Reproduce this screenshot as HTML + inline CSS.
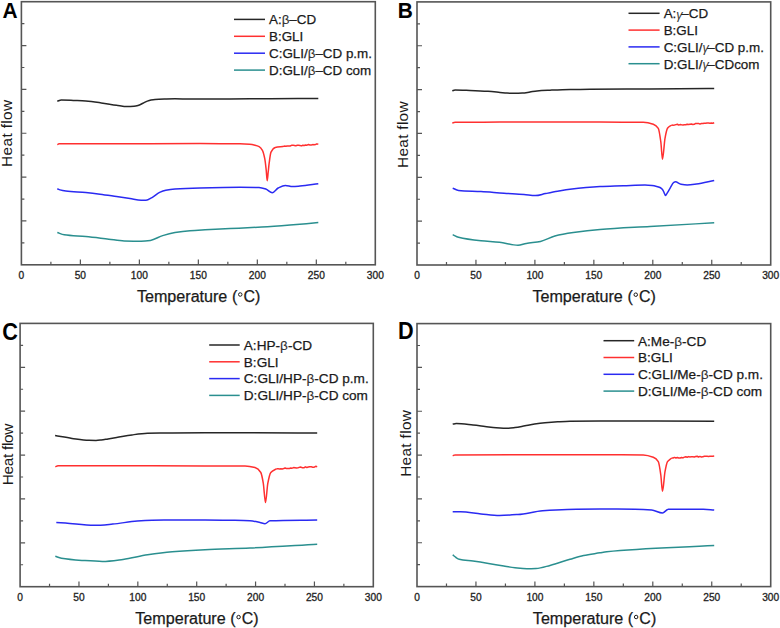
<!DOCTYPE html>
<html><head><meta charset="utf-8"><title>DSC thermograms</title>
<style>html,body{margin:0;padding:0;background:#fff;}body{width:780px;height:628px;overflow:hidden;}svg{display:block;}text{font-family:"Liberation Sans",sans-serif;}</style></head><body>
<svg width="780" height="628" viewBox="0 0 780 628">
<rect width="780" height="628" fill="#fff"/>
<g><rect x="21.4" y="1.7" width="353.9" height="263.1" fill="none" stroke="#555555" stroke-width="1.6"/>
<path d="M50.89,264.8v-3M80.38,264.8v-5.2M109.88,264.8v-3M139.37,264.8v-5.2M168.86,264.8v-3M198.35,264.8v-5.2M227.84,264.8v-3M257.33,264.8v-5.2M286.83,264.8v-3M316.32,264.8v-5.2M345.81,264.8v-3M21.4,23.62h3M21.4,45.55h5M21.4,67.48h3M21.4,89.4h5M21.4,111.33h3M21.4,133.25h5M21.4,155.17h3M21.4,177.1h5M21.4,199.03h3M21.4,220.95h5M21.4,242.88h3" stroke="#555555" stroke-width="1.2" fill="none"/>
<text x="21.4" y="279.1" font-size="10.2" text-anchor="middle" fill="#222" stroke="#222" stroke-width="0.3">0</text>
<text x="80.38" y="279.1" font-size="10.2" text-anchor="middle" fill="#222" stroke="#222" stroke-width="0.3">50</text>
<text x="139.37" y="279.1" font-size="10.2" text-anchor="middle" fill="#222" stroke="#222" stroke-width="0.3">100</text>
<text x="198.35" y="279.1" font-size="10.2" text-anchor="middle" fill="#222" stroke="#222" stroke-width="0.3">150</text>
<text x="257.33" y="279.1" font-size="10.2" text-anchor="middle" fill="#222" stroke="#222" stroke-width="0.3">200</text>
<text x="316.32" y="279.1" font-size="10.2" text-anchor="middle" fill="#222" stroke="#222" stroke-width="0.3">250</text>
<text x="375.3" y="279.1" font-size="10.2" text-anchor="middle" fill="#222" stroke="#222" stroke-width="0.3">300</text>
<text x="136.95" y="301.6" font-size="16" textLength="90.4" lengthAdjust="spacingAndGlyphs" fill="#1a1a1a" stroke="#1a1a1a" stroke-width="0.25">Temperature</text>
<text x="231.95" y="301.6" font-size="16" fill="#1a1a1a" stroke="#1a1a1a" stroke-width="0.25">(</text>
<circle cx="240.25" cy="294.5" r="1.75" fill="none" stroke="#1a1a1a" stroke-width="1"/>
<text x="243.45" y="301.6" font-size="16" fill="#1a1a1a" stroke="#1a1a1a" stroke-width="0.25">C)</text>
<text x="0" y="0" font-size="15.4" textLength="67" lengthAdjust="spacing" fill="#1a1a1a" transform="translate(12,166.9) rotate(-90)">Heat flow</text>
<text transform="translate(2.6,18) scale(0.95,1)" font-size="22" font-weight="bold" fill="#000">A</text>
<path d="M234,19.4H265" stroke="#262626" stroke-width="1.5"/>
<text x="269" y="24.2" font-size="13.4" fill="#1a1a1a" stroke="#1a1a1a" stroke-width="0.25">A:<tspan stroke-width="0.1" fill="#333">β</tspan>–CD</text>
<path d="M234,36.3H265" stroke="#ff3030" stroke-width="1.5"/>
<text x="269" y="41.1" font-size="13.4" fill="#1a1a1a" stroke="#1a1a1a" stroke-width="0.25">B:GLI</text>
<path d="M234,53.2H265" stroke="#2a2af2" stroke-width="1.5"/>
<text x="269" y="58" font-size="13.4" fill="#1a1a1a" stroke="#1a1a1a" stroke-width="0.25">C:GLI/<tspan stroke-width="0.1" fill="#333">β</tspan>–CD p.m.</text>
<path d="M234,70.1H265" stroke="#2a8f8f" stroke-width="1.5"/>
<text x="269" y="74.9" font-size="13.4" fill="#1a1a1a" stroke="#1a1a1a" stroke-width="0.25">D:GLI/<tspan stroke-width="0.1" fill="#333">β</tspan>–CD com</text>
<path d="M57.3,101.3 C58.63,100.83 59.97,99.9 61.3,99.9 C65.87,99.9 70.43,100.28 75,100.5 C78.6,100.68 82.2,100.83 85.8,101.1 C90.93,101.48 96.07,102.22 101.2,102.9 C106.3,103.57 111.4,104.49 116.5,105.2 C120.1,105.7 123.7,106.6 127.3,106.6 C129.53,106.6 131.77,106.47 134,106.3 C135.33,106.2 136.67,105.87 138,105.5 C139.67,105.04 141.33,103.99 143,103.2 C144.43,102.52 145.87,101.63 147.3,101.1 C148.53,100.65 149.77,100.25 151,100 C152.33,99.73 153.67,99.49 155,99.4 C158.33,99.17 161.67,99.09 165,99 C168.33,98.91 171.67,98.8 175,98.8 C180,98.8 185,99.1 190,99.1 C203.33,99.1 216.67,98.97 230,98.9 C243.33,98.83 256.67,98.77 270,98.7 C286.1,98.61 302.2,98.5 318.3,98.4" stroke="#262626" stroke-width="1.5" fill="none" stroke-linejoin="round"/>
<path d="M57.3,144.6 C57.87,144.33 58.43,143.8 59,143.8 C72.67,143.7 86.33,143.72 100,143.7 C133.33,143.65 166.67,143.6 200,143.6 C213.33,143.6 226.67,143.65 240,143.8 C243.2,143.84 246.4,144.03 249.6,144.3 C251.4,144.45 253.2,144.79 255,145.2 C256.37,145.51 257.73,145.87 259.1,146.6 C260.2,147.19 261.3,148.37 262.4,150.3 C263.2,151.71 264,154.82 264.8,158.9 C265.27,161.28 265.73,165.7 266.2,170 C266.53,173.07 266.87,180.8 267.2,180.8 C267.53,180.8 267.87,175 268.2,172 C268.5,169.3 268.8,165.95 269.1,163.7 C269.73,158.95 270.37,153.51 271,152.2 C272.43,149.23 273.87,147.73 275.3,147.4 C277.87,146.81 280.43,146.8 283,146.5" stroke="#ff3030" stroke-width="1.5" fill="none" stroke-linejoin="round"/>
<path d="M283,146.5 L284.43,146.11 L285.85,146.29 L287.27,145.99 L288.7,146.1 L290.12,146 L291.55,145.32 L292.97,145.14 L294.4,145.5 L295.8,145.84 L297.2,145.26 L298.6,145.23 L300,145.5 L301.41,145.9 L302.82,145.27 L304.22,145.54 L305.63,145.08 L307.04,145.14 L308.45,144.55 L309.85,144.93 L311.26,145.07 L312.67,144.62 L314.08,144.74 L315.48,144.57 L316.89,143.86 L318.3,144.2" stroke="#ff3030" stroke-width="1.5" fill="none" stroke-linejoin="round"/>
<path d="M57.3,188.7 C58.2,189.1 59.1,189.65 60,189.9 C61.93,190.44 63.87,190.76 65.8,191 C72.47,191.81 79.13,191.97 85.8,192.6 C90.53,193.05 95.27,193.6 100,194.2 C105.5,194.9 111,195.79 116.5,196.6 C121,197.26 125.5,197.92 130,198.6 C133.73,199.16 137.47,200.3 141.2,200.3 C142.8,200.3 144.4,200.3 146,200.3 C148,200.3 150,198.68 152,197.6 C154.53,196.24 157.07,193.57 159.6,192.4 C161.67,191.44 163.73,190.63 165.8,190.2 C168.87,189.56 171.93,189.11 175,188.9 C183.33,188.33 191.67,188.09 200,187.9 C213.33,187.6 226.67,187.3 240,187.3 C246.33,187.3 252.67,187.35 259,187.5 C261.27,187.55 263.53,188.27 265.8,189 C267.97,189.7 270.13,192.8 272.3,192.8 C274.27,192.8 276.23,189 278.2,188 C280.6,186.78 283,185.4 285.4,185.4 C287.77,185.4 290.13,186.6 292.5,186.6 C295,186.6 297.5,186.31 300,186.1 C306.1,185.59 312.2,184.57 318.3,183.8" stroke="#2a2af2" stroke-width="1.5" fill="none" stroke-linejoin="round"/>
<path d="M57.3,232.5 C59.6,233.27 61.9,234.46 64.2,234.8 C71.4,235.87 78.6,235.91 85.8,236.6 C93.47,237.33 101.13,238.34 108.8,239.2 C113.93,239.77 119.07,240.74 124.2,240.9 C129.87,241.07 135.53,241.2 141.2,241.2 C144.27,241.2 147.33,240.82 150.4,240.4 C154.5,239.83 158.6,236.83 162.7,235.6 C166.8,234.37 170.9,233.29 175,232.6 C180,231.76 185,231.11 190,230.7 C195,230.29 200,230.07 205,229.8 C213.33,229.35 221.67,229.01 230,228.6 C240.6,228.08 251.2,227.63 261.8,227 C271.2,226.44 280.6,225.73 290,225 C299.43,224.27 308.87,223.4 318.3,222.6" stroke="#2a8f8f" stroke-width="1.5" fill="none" stroke-linejoin="round"/></g>
<g><rect x="417" y="1.9" width="353.7" height="263.1" fill="none" stroke="#555555" stroke-width="1.6"/>
<path d="M446.48,265v-3M475.95,265v-5.2M505.43,265v-3M534.9,265v-5.2M564.38,265v-3M593.85,265v-5.2M623.33,265v-3M652.8,265v-5.2M682.28,265v-3M711.75,265v-5.2M741.23,265v-3M417,23.82h3M417,45.75h5M417,67.68h3M417,89.6h5M417,111.53h3M417,133.45h5M417,155.38h3M417,177.3h5M417,199.23h3M417,221.15h5M417,243.08h3" stroke="#555555" stroke-width="1.2" fill="none"/>
<text x="417" y="279.3" font-size="10.2" text-anchor="middle" fill="#222" stroke="#222" stroke-width="0.3">0</text>
<text x="475.95" y="279.3" font-size="10.2" text-anchor="middle" fill="#222" stroke="#222" stroke-width="0.3">50</text>
<text x="534.9" y="279.3" font-size="10.2" text-anchor="middle" fill="#222" stroke="#222" stroke-width="0.3">100</text>
<text x="593.85" y="279.3" font-size="10.2" text-anchor="middle" fill="#222" stroke="#222" stroke-width="0.3">150</text>
<text x="652.8" y="279.3" font-size="10.2" text-anchor="middle" fill="#222" stroke="#222" stroke-width="0.3">200</text>
<text x="711.75" y="279.3" font-size="10.2" text-anchor="middle" fill="#222" stroke="#222" stroke-width="0.3">250</text>
<text x="770.7" y="279.3" font-size="10.2" text-anchor="middle" fill="#222" stroke="#222" stroke-width="0.3">300</text>
<text x="532.45" y="301.8" font-size="16" textLength="90.4" lengthAdjust="spacingAndGlyphs" fill="#1a1a1a" stroke="#1a1a1a" stroke-width="0.25">Temperature</text>
<text x="627.45" y="301.8" font-size="16" fill="#1a1a1a" stroke="#1a1a1a" stroke-width="0.25">(</text>
<circle cx="635.75" cy="294.7" r="1.75" fill="none" stroke="#1a1a1a" stroke-width="1"/>
<text x="638.95" y="301.8" font-size="16" fill="#1a1a1a" stroke="#1a1a1a" stroke-width="0.25">C)</text>
<text x="0" y="0" font-size="15.4" textLength="66.6" lengthAdjust="spacing" fill="#1a1a1a" transform="translate(407.7,168) rotate(-90)">Heat flow</text>
<text transform="translate(397.8,18) scale(0.95,1)" font-size="22" font-weight="bold" fill="#000">B</text>
<path d="M628.5,13.3H659.6" stroke="#262626" stroke-width="1.5"/>
<text x="663.7" y="18.1" font-size="13.4" fill="#1a1a1a" stroke="#1a1a1a" stroke-width="0.25">A:<tspan font-style="italic" font-size="12.5" stroke-width="0" fill="#3a3a3a" dy="0.6">γ</tspan><tspan dx="-1.3" dy="-0.6">–CD</tspan></text>
<path d="M628.5,30.1H659.6" stroke="#ff3030" stroke-width="1.5"/>
<text x="663.7" y="34.9" font-size="13.4" fill="#1a1a1a" stroke="#1a1a1a" stroke-width="0.25">B:GLI</text>
<path d="M628.5,46.9H659.6" stroke="#2a2af2" stroke-width="1.5"/>
<text x="663.7" y="51.7" font-size="13.4" fill="#1a1a1a" stroke="#1a1a1a" stroke-width="0.25">C:GLI/<tspan font-style="italic" font-size="12.5" stroke-width="0" fill="#3a3a3a" dy="0.6">γ</tspan><tspan dx="-1.3" dy="-0.6">–CD p.m.</tspan></text>
<path d="M628.5,63.7H659.6" stroke="#2a8f8f" stroke-width="1.5"/>
<text x="663.7" y="68.5" font-size="13.4" fill="#1a1a1a" stroke="#1a1a1a" stroke-width="0.25">D:GLI/<tspan font-style="italic" font-size="12.5" stroke-width="0" fill="#3a3a3a" dy="0.6">γ</tspan><tspan dx="-1.3" dy="-0.6">–CDcom</tspan></text>
<path d="M452.3,90.9 C453.2,90.57 454.1,89.9 455,89.9 C460,89.9 465,90.2 470,90.4 C476,90.64 482,90.9 488,91.3 C492,91.56 496,92.02 500,92.4 C502.33,92.62 504.67,93.01 507,93.1 C509.67,93.21 512.33,93.3 515,93.3 C517.43,93.3 519.87,93.21 522.3,93.1 C524.87,92.98 527.43,92.38 530,92 C532.33,91.65 534.67,91.1 537,90.9 C541.33,90.53 545.67,90.39 550,90.2 C556.67,89.91 563.33,89.6 570,89.5 C576.67,89.4 583.33,89.36 590,89.3 C610,89.13 630,89.04 650,88.9 C671.4,88.75 692.8,88.57 714.2,88.4" stroke="#262626" stroke-width="1.5" fill="none" stroke-linejoin="round"/>
<path d="M452.3,123 C453.2,122.73 454.1,122.21 455,122.2 C470,122.11 485,122.14 500,122.1 C521,122.05 542,121.9 563,121.9 C575.33,121.9 587.67,122.06 600,122.1 C614.43,122.15 628.87,122.12 643.3,122.2 C646.63,122.22 649.97,123.05 653.3,124.2 C654.97,124.77 656.63,125.72 658.3,128.3 C659.13,129.59 659.97,135.71 660.8,141.7 C661.37,145.78 661.93,159.2 662.5,159.2 C663.33,159.2 664.17,142.81 665,138.3 C665.83,133.79 666.67,129.46 667.5,128.3 C668.9,126.35 670.3,126.1 671.7,125" stroke="#ff3030" stroke-width="1.5" fill="none" stroke-linejoin="round"/>
<path d="M671.7,125 L673.11,125.2 L674.52,124.97 L675.92,124.62 L677.33,124.28 L678.74,125.06 L680.15,124.6 L681.55,124.79 L682.96,124.89 L684.37,124.66 L685.78,124.81 L687.18,124.22 L688.59,124.56 L690,124.2 L691.42,124.06 L692.85,124.47 L694.27,124.33 L695.69,123.47 L697.12,123.42 L698.54,123.42 L699.96,124.09 L701.39,123.48 L702.81,123.59 L704.24,123.18 L705.66,123.3 L707.08,123.1 L708.51,122.98 L709.93,123.13 L711.35,123.05 L712.78,123.29 L714.2,122.8" stroke="#ff3030" stroke-width="1.5" fill="none" stroke-linejoin="round"/>
<path d="M452.7,188.2 C454.63,188.93 456.57,190.2 458.5,190.4 C466,191.17 473.5,191.06 481,191.5 C488.67,191.95 496.33,192.69 504,193.2 C510.67,193.64 517.33,193.88 524,194.4 C527.8,194.7 531.6,195.6 535.4,195.6 C538.73,195.6 542.07,194.25 545.4,193.6 C549.5,192.81 553.6,192.01 557.7,191.3 C561.8,190.59 565.9,189.79 570,189.3 C580,188.09 590,187.09 600,186.6 C607.77,186.22 615.53,186.08 623.3,185.8 C630.53,185.54 637.77,185 645,185 C647.33,185 649.67,185.25 652,185.5 C653.57,185.67 655.13,186.01 656.7,186.4 C657.8,186.67 658.9,186.98 660,187.5 C660.83,187.89 661.67,188.46 662.5,189.4 C663.13,190.12 663.77,192.05 664.4,193.3 C664.8,194.09 665.2,195.6 665.6,195.6 C666.07,195.6 666.53,194.15 667,193.4 C668,191.79 669,190.02 670,188.4 C671.27,186.34 672.53,183.11 673.8,182.4 C674.33,182.1 674.87,181.8 675.4,181.8 C677.27,181.8 679.13,183.83 681,184.2 C683.07,184.61 685.13,185 687.2,185 C690.27,185 693.33,184.49 696.4,184.1 C702.33,183.34 708.27,181.63 714.2,180.4" stroke="#2a2af2" stroke-width="1.5" fill="none" stroke-linejoin="round"/>
<path d="M452.7,234.6 C454.63,235.5 456.57,236.8 458.5,237.3 C466,239.24 473.5,240.04 481,240.8 C487.17,241.42 493.33,241.56 499.5,242.2 C505.67,242.84 511.83,245.3 518,245.3 C520.73,245.3 523.47,243.89 526.2,243.4 C530.97,242.55 535.73,242.37 540.5,241.4 C545.3,240.42 550.1,237.2 554.9,236 C561.03,234.46 567.17,233.49 573.3,232.6 C582.2,231.31 591.1,230.23 600,229.5 C616.67,228.14 633.33,227.48 650,226.5 C671.4,225.24 692.8,224.03 714.2,222.8" stroke="#2a8f8f" stroke-width="1.5" fill="none" stroke-linejoin="round"/></g>
<g><rect x="20.1" y="323.4" width="353.2" height="263.3" fill="none" stroke="#555555" stroke-width="1.6"/>
<path d="M49.53,586.7v-3M78.97,586.7v-5.2M108.4,586.7v-3M137.83,586.7v-5.2M167.27,586.7v-3M196.7,586.7v-5.2M226.13,586.7v-3M255.57,586.7v-5.2M285,586.7v-3M314.43,586.7v-5.2M343.87,586.7v-3M20.1,345.34h3M20.1,367.28h5M20.1,389.23h3M20.1,411.17h5M20.1,433.11h3M20.1,455.05h5M20.1,476.99h3M20.1,498.93h5M20.1,520.88h3M20.1,542.82h5M20.1,564.76h3" stroke="#555555" stroke-width="1.2" fill="none"/>
<text x="20.1" y="601" font-size="10.2" text-anchor="middle" fill="#222" stroke="#222" stroke-width="0.3">0</text>
<text x="78.97" y="601" font-size="10.2" text-anchor="middle" fill="#222" stroke="#222" stroke-width="0.3">50</text>
<text x="137.83" y="601" font-size="10.2" text-anchor="middle" fill="#222" stroke="#222" stroke-width="0.3">100</text>
<text x="196.7" y="601" font-size="10.2" text-anchor="middle" fill="#222" stroke="#222" stroke-width="0.3">150</text>
<text x="255.57" y="601" font-size="10.2" text-anchor="middle" fill="#222" stroke="#222" stroke-width="0.3">200</text>
<text x="314.43" y="601" font-size="10.2" text-anchor="middle" fill="#222" stroke="#222" stroke-width="0.3">250</text>
<text x="373.3" y="601" font-size="10.2" text-anchor="middle" fill="#222" stroke="#222" stroke-width="0.3">300</text>
<text x="135.3" y="624.2" font-size="16" textLength="90.4" lengthAdjust="spacingAndGlyphs" fill="#1a1a1a" stroke="#1a1a1a" stroke-width="0.25">Temperature</text>
<text x="230.3" y="624.2" font-size="16" fill="#1a1a1a" stroke="#1a1a1a" stroke-width="0.25">(</text>
<circle cx="238.6" cy="617.1" r="1.75" fill="none" stroke="#1a1a1a" stroke-width="1"/>
<text x="241.8" y="624.2" font-size="16" fill="#1a1a1a" stroke="#1a1a1a" stroke-width="0.25">C)</text>
<text x="0" y="0" font-size="15.4" textLength="61.7" lengthAdjust="spacing" fill="#1a1a1a" transform="translate(12.7,485.2) rotate(-90)">Heat flow</text>
<text transform="translate(2.2,339.7) scale(0.88,1)" font-size="24.6" font-weight="bold" fill="#000">C</text>
<path d="M209.2,345H239.7" stroke="#262626" stroke-width="1.5"/>
<text x="243.8" y="349.8" font-size="13.6" fill="#1a1a1a" stroke="#1a1a1a" stroke-width="0.25">A:HP-<tspan stroke-width="0.1" fill="#333">β</tspan>-CD</text>
<path d="M209.2,361.8H239.7" stroke="#ff3030" stroke-width="1.5"/>
<text x="243.8" y="366.6" font-size="13.6" fill="#1a1a1a" stroke="#1a1a1a" stroke-width="0.25">B:GLI</text>
<path d="M209.2,378.6H239.7" stroke="#2a2af2" stroke-width="1.5"/>
<text x="243.8" y="383.4" font-size="13.6" fill="#1a1a1a" stroke="#1a1a1a" stroke-width="0.25">C:GLI/HP-<tspan stroke-width="0.1" fill="#333">β</tspan>-CD p.m.</text>
<path d="M209.2,395.4H239.7" stroke="#2a8f8f" stroke-width="1.5"/>
<text x="243.8" y="400.2" font-size="13.6" fill="#1a1a1a" stroke="#1a1a1a" stroke-width="0.25">D:GLI/HP-<tspan stroke-width="0.1" fill="#333">β</tspan>-CD com</text>
<path d="M55.1,435.6 C60.73,436.53 66.37,437.65 72,438.4 C77.63,439.15 83.27,440.17 88.9,440.3 C91.27,440.35 93.63,440.4 96,440.4 C97.73,440.4 99.47,440.18 101.2,440 C103.47,439.77 105.73,439.27 108,438.9 C110.87,438.43 113.73,437.97 116.6,437.5 C121.73,436.65 126.87,435.56 132,434.9 C137.13,434.24 142.27,433.49 147.4,433.3 C151.6,433.14 155.8,433.05 160,433 C164,432.95 168,432.92 172,432.9 C183,432.85 194,432.8 205,432.8 C220,432.8 235,432.8 250,432.8 C272.4,432.8 294.8,432.93 317.2,433" stroke="#262626" stroke-width="1.5" fill="none" stroke-linejoin="round"/>
<path d="M55.3,466.8 C56.2,466.47 57.1,465.81 58,465.8 C72,465.71 86,465.7 100,465.7 C135,465.7 170,465.9 205,465.9 C218.33,465.9 231.67,465.9 245,465.9 C248.33,465.9 251.67,466.54 255,467.5 C256.93,468.06 258.87,469.45 260.8,472.5 C261.63,473.81 262.47,478.45 263.3,483.3 C264.03,487.57 264.77,502.5 265.5,502.5 C266.27,502.5 267.03,487.23 267.8,483.3 C268.8,478.18 269.8,473.68 270.8,472.5 C272.77,470.18 274.73,469.97 276.7,468.7" stroke="#ff3030" stroke-width="1.5" fill="none" stroke-linejoin="round"/>
<path d="M276.7,468.7 L278.11,468.81 L279.52,468.99 L280.92,468.85 L282.33,468.91 L283.74,468.53 L285.15,467.95 L286.55,468.58 L287.96,468.61 L289.37,468.48 L290.78,468.08 L292.18,468.15 L293.59,467.58 L295,467.8 L296.48,468.06 L297.96,467.73 L299.44,467.36 L300.92,467.07 L302.4,467.79 L303.88,467.85 L305.36,466.88 L306.84,467.51 L308.32,467.05 L309.8,466.72 L311.28,466.79 L312.76,467.19 L314.24,467.22 L315.72,466.32 L317.2,466.7" stroke="#ff3030" stroke-width="1.5" fill="none" stroke-linejoin="round"/>
<path d="M56.3,522.4 C59.37,522.6 62.43,522.78 65.5,523 C75.07,523.68 84.63,525.3 94.2,525.3 C100.37,525.3 106.53,524.62 112.7,524.1 C120.9,523.41 129.1,521.48 137.3,521 C146.2,520.48 155.1,520.04 164,520 C177.67,519.93 191.33,519.9 205,519.9 C214.43,519.9 223.87,520.11 233.3,520.3 C238.87,520.41 244.43,520.5 250,520.8 C253.33,520.98 256.67,521.82 260,522.5 C261.67,522.84 263.33,523.7 265,523.7 C266.67,523.7 268.33,520.87 270,520.8 C285.73,520.11 301.47,520.27 317.2,520" stroke="#2a2af2" stroke-width="1.5" fill="none" stroke-linejoin="round"/>
<path d="M55.3,556.3 C57.33,556.97 59.37,557.95 61.4,558.3 C68.23,559.48 75.07,559.95 81.9,560.4 C88.73,560.85 95.57,561.4 102.4,561.4 C109.27,561.4 116.13,560.27 123,559.4 C131.2,558.36 139.4,556.01 147.6,554.8 C155.8,553.59 164,552.5 172.2,551.8 C183.13,550.87 194.07,550.23 205,549.7 C220,548.98 235,548.67 250,548 C272.4,547 294.8,545.47 317.2,544.2" stroke="#2a8f8f" stroke-width="1.5" fill="none" stroke-linejoin="round"/></g>
<g><rect x="417" y="323.6" width="353.7" height="263" fill="none" stroke="#555555" stroke-width="1.6"/>
<path d="M446.48,586.6v-3M475.95,586.6v-5.2M505.43,586.6v-3M534.9,586.6v-5.2M564.38,586.6v-3M593.85,586.6v-5.2M623.33,586.6v-3M652.8,586.6v-5.2M682.28,586.6v-3M711.75,586.6v-5.2M741.23,586.6v-3M417,345.52h3M417,367.43h5M417,389.35h3M417,411.27h5M417,433.18h3M417,455.1h5M417,477.02h3M417,498.93h5M417,520.85h3M417,542.77h5M417,564.68h3" stroke="#555555" stroke-width="1.2" fill="none"/>
<text x="417" y="600.9" font-size="10.2" text-anchor="middle" fill="#222" stroke="#222" stroke-width="0.3">0</text>
<text x="475.95" y="600.9" font-size="10.2" text-anchor="middle" fill="#222" stroke="#222" stroke-width="0.3">50</text>
<text x="534.9" y="600.9" font-size="10.2" text-anchor="middle" fill="#222" stroke="#222" stroke-width="0.3">100</text>
<text x="593.85" y="600.9" font-size="10.2" text-anchor="middle" fill="#222" stroke="#222" stroke-width="0.3">150</text>
<text x="652.8" y="600.9" font-size="10.2" text-anchor="middle" fill="#222" stroke="#222" stroke-width="0.3">200</text>
<text x="711.75" y="600.9" font-size="10.2" text-anchor="middle" fill="#222" stroke="#222" stroke-width="0.3">250</text>
<text x="770.7" y="600.9" font-size="10.2" text-anchor="middle" fill="#222" stroke="#222" stroke-width="0.3">300</text>
<text x="532.85" y="624.1" font-size="16" textLength="90.4" lengthAdjust="spacingAndGlyphs" fill="#1a1a1a" stroke="#1a1a1a" stroke-width="0.25">Temperature</text>
<text x="627.85" y="624.1" font-size="16" fill="#1a1a1a" stroke="#1a1a1a" stroke-width="0.25">(</text>
<circle cx="636.15" cy="617" r="1.75" fill="none" stroke="#1a1a1a" stroke-width="1"/>
<text x="639.35" y="624.1" font-size="16" fill="#1a1a1a" stroke="#1a1a1a" stroke-width="0.25">C)</text>
<text x="0" y="0" font-size="15.4" textLength="66.7" lengthAdjust="spacing" fill="#1a1a1a" transform="translate(411,476.8) rotate(-90)">Heat flow</text>
<text transform="translate(397.9,338.8) scale(0.93,1)" font-size="23.3" font-weight="bold" fill="#000">D</text>
<path d="M603.5,340.7H634.2" stroke="#262626" stroke-width="1.5"/>
<text x="638" y="345.5" font-size="13.6" fill="#1a1a1a" stroke="#1a1a1a" stroke-width="0.25">A:Me-<tspan stroke-width="0.1" fill="#333">β</tspan>-CD</text>
<path d="M603.5,357.5H634.2" stroke="#ff3030" stroke-width="1.5"/>
<text x="638" y="362.3" font-size="13.6" fill="#1a1a1a" stroke="#1a1a1a" stroke-width="0.25">B:GLI</text>
<path d="M603.5,374.3H634.2" stroke="#2a2af2" stroke-width="1.5"/>
<text x="638" y="379.1" font-size="13.6" fill="#1a1a1a" stroke="#1a1a1a" stroke-width="0.25">C:GLI/Me-<tspan stroke-width="0.1" fill="#333">β</tspan>-CD p.m.</text>
<path d="M603.5,391.1H634.2" stroke="#2a8f8f" stroke-width="1.5"/>
<text x="638" y="395.9" font-size="13.6" fill="#1a1a1a" stroke="#1a1a1a" stroke-width="0.25">D:GLI/Me-<tspan stroke-width="0.1" fill="#333">β</tspan>-CD com</text>
<path d="M452.7,424.1 C453.87,423.93 455.03,423.6 456.2,423.6 C461.8,423.6 467.4,424.45 473,425 C477,425.39 481,425.93 485,426.4 C488.73,426.83 492.47,427.47 496.2,427.7 C500.3,427.95 504.4,428.2 508.5,428.2 C510.67,428.2 512.83,427.86 515,427.6 C518.33,427.2 521.67,426.4 525,425.8 C528.2,425.23 531.4,424.57 534.6,424.1 C538.07,423.59 541.53,423.14 545,422.8 C549.23,422.39 553.47,422.05 557.7,421.8 C561.8,421.55 565.9,421.25 570,421.2 C580,421.07 590,421 600,421 C638.07,421 676.13,421.2 714.2,421.3" stroke="#262626" stroke-width="1.5" fill="none" stroke-linejoin="round"/>
<path d="M452.7,455.8 C453.47,455.5 454.23,454.9 455,454.9 C503.33,454.8 551.67,454.8 600,454.8 C614.43,454.8 628.87,454.82 643.3,454.9 C646.63,454.92 649.97,455.96 653.3,457.3 C654.97,457.97 656.63,458.97 658.3,461.7 C659.13,463.07 659.97,469.19 660.8,475 C661.37,478.95 661.93,491.3 662.5,491.3 C663.33,491.3 664.17,476.11 665,471.7 C665.83,467.29 666.67,462.97 667.5,461.7 C668.9,459.56 670.3,459.23 671.7,458" stroke="#ff3030" stroke-width="1.5" fill="none" stroke-linejoin="round"/>
<path d="M671.7,458 L673.11,458.04 L674.52,457.39 L675.92,457.99 L677.33,457.52 L678.74,458 L680.15,458.02 L681.55,457.47 L682.96,457.88 L684.37,457.12 L685.78,456.81 L687.18,457.25 L688.59,456.61 L690,457 L691.42,456.64 L692.85,456.79 L694.27,456.93 L695.69,456.42 L697.12,456.25 L698.54,457.01 L699.96,456.4 L701.39,456.99 L702.81,456.87 L704.24,456.29 L705.66,456.31 L707.08,456.31 L708.51,456.38 L709.93,456.27 L711.35,456.18 L712.78,456.18 L714.2,456" stroke="#ff3030" stroke-width="1.5" fill="none" stroke-linejoin="round"/>
<path d="M452.7,511.8 C455.3,511.8 457.9,511.8 460.5,511.8 C467.33,511.8 474.17,513.26 481,513.9 C487.17,514.48 493.33,515.5 499.5,515.5 C505.67,515.5 511.83,514.98 518,514.5 C526.2,513.86 534.4,511.48 542.6,510.8 C550.8,510.12 559,509.57 567.2,509.4 C578.13,509.17 589.07,509 600,509 C611.67,509 623.33,509.07 635,509.2 C640.57,509.26 646.13,509.52 651.7,510 C655.3,510.31 658.9,513 662.5,513 C664.43,513 666.37,509.2 668.3,509.2 C679.97,509.2 691.63,509.2 703.3,509.2 C706.93,509.2 710.57,509.73 714.2,510" stroke="#2a2af2" stroke-width="1.5" fill="none" stroke-linejoin="round"/>
<path d="M452.7,554.9 C453.8,555.77 454.9,556.8 456,557.5 C457.07,558.18 458.13,558.93 459.2,559.2 C463.8,560.35 468.4,560.43 473,561.1 C478.17,561.85 483.33,562.66 488.5,563.5 C493.6,564.33 498.7,565.28 503.8,566.1 C507.53,566.7 511.27,567.4 515,567.8 C519,568.23 523,568.8 527,568.8 C530,568.8 533,568.67 536,568.5 C540.67,568.24 545.33,566.59 550,565.4 C556.67,563.71 563.33,561.24 570,559.3 C574.53,557.98 579.07,556.45 583.6,555.5 C589.07,554.36 594.53,553.7 600,552.8 C602.23,552.43 604.47,551.92 606.7,551.7 C642.53,548.14 678.37,547.57 714.2,545.5" stroke="#2a8f8f" stroke-width="1.5" fill="none" stroke-linejoin="round"/></g>
</svg></body></html>
